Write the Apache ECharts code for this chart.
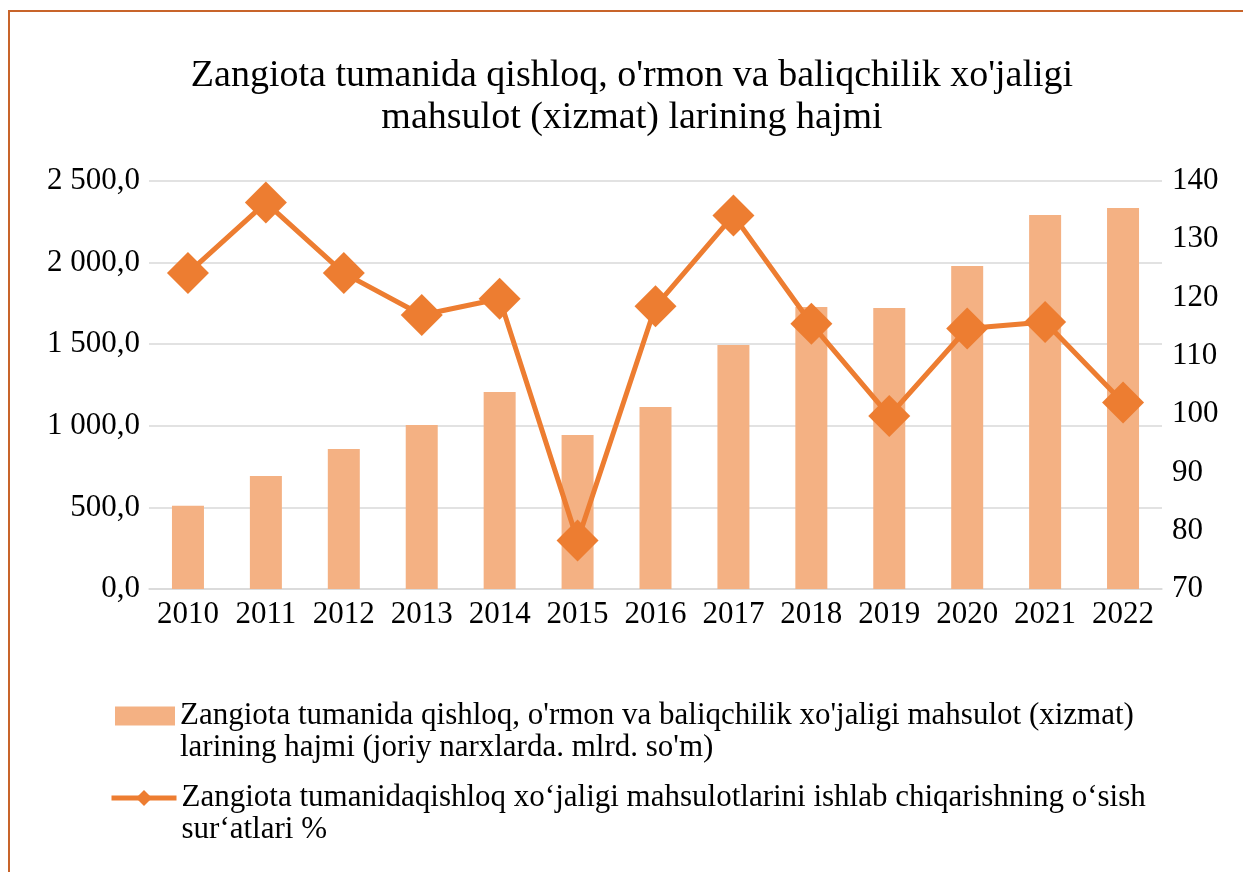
<!DOCTYPE html>
<html>
<head>
<meta charset="utf-8">
<script src="https://cdn.jsdelivr.net/npm/echarts@6/dist/echarts.min.js"></script>
<style>
html,body{margin:0;padding:0;background:#fff;}
#chart{width:1243px;height:872px;}
</style>
</head>
<body>
<div id="chart"></div>
<script>
const years = ['2010','2011','2012','2013','2014','2015','2016','2017','2018','2019','2020','2021','2022'];
const volume = [510, 692, 858, 1005, 1207, 944, 1115, 1495, 1728, 1722, 1979, 2292, 2335];
const growth = [124.2, 136.3, 124.2, 117.0, 119.8, 78.3, 118.5, 134.1, 115.5, 99.7, 114.7, 115.8, 102.0];
const titleLines = ["Zangiota tumanida qishloq, o'rmon va baliqchilik xo'jaligi", "mahsulot (xizmat) larining hajmi"];
const barNameLines = ["Zangiota tumanida qishloq, o'rmon va baliqchilik xo'jaligi mahsulot (xizmat)", "larining hajmi (joriy narxlarda. mlrd. so'm)"];
const lineNameLines = ["Zangiota tumanidaqishloq xo\u2018jaligi mahsulotlarini ishlab chiqarishning o\u2018sish", "sur\u2018atlari %"];

const barName = barNameLines.join(' ');
const lineName = lineNameLines.join(' ');
const FONT = "'Liberation Serif', 'Times New Roman', serif";
const BAR_COLOR = '#F4B183';
const LINE_COLOR = '#ED7D31';

function fmtLeft(v) {
  const s = v.toFixed(1).split('.');
  const intPart = s[0].replace(/\B(?=(\d{3})+(?!\d))/g, ' ');
  return intPart + ',' + s[1];
}
function legendFmt(lines) {
  return '{p| }\n' + lines.map(l => '{t|' + l + '}').join('\n');
}

const chart = echarts.init(document.getElementById('chart'), null, {renderer: 'canvas'});
const legendText = {
  fontFamily: FONT, fontSize: 31, color: '#000', lineHeight: 32,
  rich: {
    p: {fontFamily: FONT, fontSize: 31, lineHeight: 32, color: '#000'},
    t: {fontFamily: FONT, fontSize: 31, lineHeight: 32, color: '#000'}
  }
};
chart.setOption({
  animation: false,
  backgroundColor: '#fff',
  graphic: [{
    type: 'rect', silent: true,
    shape: {x: 9, y: 11, width: 1400, height: 1000},
    style: {fill: 'none', stroke: '#C8642A', lineWidth: 2}
  }],
  title: {
    text: titleLines.join('\n'),
    left: 627, top: 50, textAlign: 'center',
    textStyle: {fontFamily: FONT, fontSize: 38, fontWeight: 'normal', color: '#000', lineHeight: 42}
  },
  legend: [{
    data: [barName],
    left: 115, top: 668, orient: 'vertical', padding: 0,
    itemWidth: 60, itemHeight: 19, icon: 'rect',
    formatter: () => legendFmt(barNameLines),
    textStyle: legendText
  }, {
    data: [lineName],
    left: 109, top: 750, orient: 'vertical', padding: 0,
    itemWidth: 65, itemHeight: 20,
    lineStyle: {width: 5},
    formatter: () => legendFmt(lineNameLines),
    textStyle: legendText
  }],
  grid: {left: 149, right: 81, top: 181, bottom: 283, containLabel: false},
  xAxis: {
    type: 'category', data: years,
    axisLine: {lineStyle: {color: '#d9d9d9', width: 1.5}},
    axisTick: {show: false},
    axisLabel: {fontFamily: FONT, fontSize: 31, color: '#000', margin: 10, interval: 0}
  },
  yAxis: [{
    type: 'value', min: 0, max: 2500, interval: 500,
    axisLine: {show: false}, axisTick: {show: false},
    splitLine: {lineStyle: {color: '#d9d9d9', width: 1.5}},
    axisLabel: {fontFamily: FONT, fontSize: 31, color: '#000', margin: 9, formatter: fmtLeft}
  }, {
    type: 'value', min: 70, max: 140, interval: 10,
    axisLine: {show: false}, axisTick: {show: false},
    splitLine: {show: false},
    axisLabel: {fontFamily: FONT, fontSize: 31, color: '#000', margin: 10}
  }],
  series: [{
    name: barName, type: 'bar', data: volume, yAxisIndex: 0,
    barWidth: 32, itemStyle: {color: BAR_COLOR}
  }, {
    name: lineName, type: 'line', data: growth, yAxisIndex: 1,
    symbol: 'diamond', symbolSize: 42, showAllSymbol: true,
    lineStyle: {color: LINE_COLOR, width: 5},
    itemStyle: {color: LINE_COLOR}
  }]
});
</script>
</body>
</html>
